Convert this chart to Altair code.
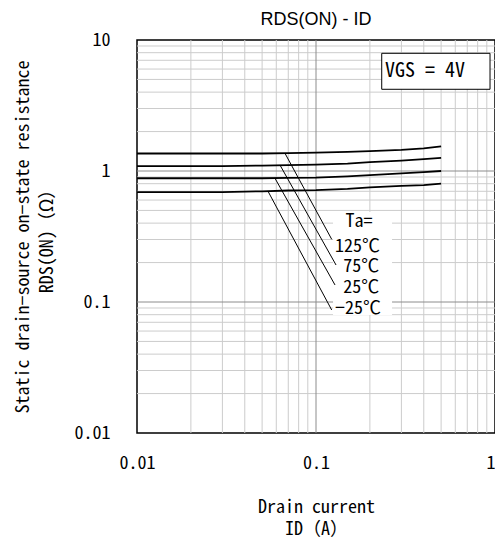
import altair as alt
import pandas as pd

# ---- data ----
current = [0.01, 0.02, 0.03, 0.05, 0.07, 0.1, 0.15, 0.2, 0.3, 0.4, 0.5]
r_125 = [1.36, 1.36, 1.36, 1.36, 1.37, 1.38, 1.40, 1.42, 1.45, 1.49, 1.54]
r_75 = [1.09, 1.09, 1.09, 1.10, 1.11, 1.12, 1.14, 1.17, 1.20, 1.23, 1.26]
r_25 = [0.88, 0.88, 0.88, 0.88, 0.885, 0.89, 0.91, 0.93, 0.96, 0.98, 1.00]
r_m25 = [0.69, 0.69, 0.69, 0.70, 0.71, 0.715, 0.73, 0.75, 0.77, 0.78, 0.80]
series_names = ["125", "75", "25", "-25"]

# leader lines: (x_start, y_start, x_end, y_end)
leader_x1 = [0.0671, 0.0629, 0.0590, 0.0541]
leader_y1 = [1.365, 1.111, 0.880, 0.695]
leader_x2 = [0.1224, 0.1294, 0.1277, 0.1224]
leader_y2 = [0.301, 0.1916, 0.1349, 0.0869]

label_text = ["Ta=", "125℃", "75℃", "25℃", "−25℃"]
label_x = [0.1738, 0.1277, 0.1421, 0.1421, 0.1277]
label_y = [0.4045, 0.2607, 0.1834, 0.1279, 0.0884]
label_align = ["center", "left", "left", "left", "left"]

x_ticks = [0.01, 0.1, 1]
y_ticks = [0.01, 0.1, 1, 10]

W, H = 358, 393
FONT = "'Noto Sans Mono CJK JP', 'Noto Sans CJK JP', sans-serif"

# ---- tables ----
rows = []
for name, vals in zip(series_names, [r_125, r_75, r_25, r_m25]):
    for c, v in zip(current, vals):
        rows.append({"id": c, "r": v, "s": name})
curves = pd.DataFrame(rows)

xminor = pd.DataFrame({"x": [m * d for d in [0.01, 0.1] for m in range(2, 10)]})
yminor = pd.DataFrame({"y": [m * d for d in [0.01, 0.1, 1] for m in range(2, 10)]})
xmajor = pd.DataFrame({"x": [0.1]})
ymajor = pd.DataFrame({"y": [0.1, 1]})

leaders = pd.DataFrame({"x": leader_x1, "y": leader_y1, "x2": leader_x2, "y2": leader_y2})
labels = pd.DataFrame({"t": label_text, "x": label_x, "y": label_y, "a": label_align})

xs = alt.Scale(type="log", domain=[0.01, 1], nice=False)
ys = alt.Scale(type="log", domain=[0.01, 10], nice=False)

x_axis = alt.Axis(values=x_ticks, format="~g", grid=False, ticks=False, domain=False,
                  labelFont=FONT, labelFontSize=18, labelColor="black",
                  labelPadding=21, labelFlush=False,
                  labelAlign={"expr": "datum.value >= 1 ? 'right' : 'center'"},
                  title=["Drain current", "ID（A）"], titleFont=FONT, titleFontSize=18,
                  titleFontWeight="normal", titleColor="black", titleBaseline="top",
                  titleY=65, titleLineHeight=22)
y_axis = alt.Axis(values=y_ticks, format="~g", grid=False, ticks=False, domain=False,
                  labelFont=FONT, labelFontSize=18, labelColor="black",
                  labelPadding=27, labelFlush=False,
                  title=["Static drain−source on−state resistance", "RDS(ON)（Ω）"],
                  titleFont=FONT, titleFontSize=18, titleFontWeight="normal",
                  titleColor="black", titleBaseline="top", titleX=-123,
                  titleLineHeight=24)

base = alt.Chart(curves)

grid_xminor = alt.Chart(xminor).mark_rule(color="#cccccc", strokeWidth=1).encode(
    x=alt.X("x:Q", scale=xs, axis=x_axis))
grid_yminor = alt.Chart(yminor).mark_rule(color="#cccccc", strokeWidth=1).encode(
    y=alt.Y("y:Q", scale=ys, axis=y_axis))
grid_xmajor = alt.Chart(xmajor).mark_rule(color="#8c8c8c", strokeWidth=1).encode(
    x=alt.X("x:Q", scale=xs))
grid_ymajor = alt.Chart(ymajor).mark_rule(color="#8c8c8c", strokeWidth=1).encode(
    y=alt.Y("y:Q", scale=ys))

label_bg = alt.Chart(pd.DataFrame({"x": [0.1245], "x2": [0.266], "y": [0.0796], "y2": [0.486]})).mark_rect(
    fill="white").encode(x=alt.X("x:Q", scale=xs), x2="x2:Q", y=alt.Y("y:Q", scale=ys), y2="y2:Q")

lines = base.mark_line(color="black", strokeWidth=1.8).encode(
    x=alt.X("id:Q", scale=xs),
    y=alt.Y("r:Q", scale=ys),
    detail="s:N",
)

leader = alt.Chart(leaders).mark_rule(color="black", strokeWidth=1).encode(
    x=alt.X("x:Q", scale=xs), y=alt.Y("y:Q", scale=ys), x2="x2:Q", y2="y2:Q")

text_center = alt.Chart(labels[labels.a == "center"]).mark_text(
    font=FONT, fontSize=18, color="black", align="center", baseline="middle").encode(
    x=alt.X("x:Q", scale=xs), y=alt.Y("y:Q", scale=ys), text="t:N")
text_left = alt.Chart(labels[labels.a == "left"]).mark_text(
    font=FONT, fontSize=18, color="black", align="left", baseline="middle").encode(
    x=alt.X("x:Q", scale=xs), y=alt.Y("y:Q", scale=ys), text="t:N")

vgs_box = alt.Chart(pd.DataFrame({"x": [0.2329], "x2": [0.938], "y": [4.205], "y2": [7.915]})).mark_rect(
    fill="white", stroke="black", strokeWidth=1).encode(
    x=alt.X("x:Q", scale=xs), x2="x2:Q", y=alt.Y("y:Q", scale=ys), y2="y2:Q")
vgs_text = alt.Chart(pd.DataFrame({"x": [0.243], "y": [5.75], "t": ["VGS = 4V"]})).mark_text(
    font=FONT, fontSize=20, color="black", align="left", baseline="middle").encode(
    x=alt.X("x:Q", scale=xs), y=alt.Y("y:Q", scale=ys), text="t:N")

title_text = alt.Chart(pd.DataFrame({"t": ["RDS(ON) - ID"]})).mark_text(
    font="Liberation Sans", fontSize=18, color="black", align="center",
    baseline="alphabetic").encode(
    x=alt.value(W / 2), y=alt.value(-15), text="t:N")

chart = alt.layer(
    grid_xminor, grid_yminor, grid_xmajor, grid_ymajor,
    label_bg, lines, leader, text_center, text_left, vgs_box, vgs_text, title_text,
).properties(
    width=W, height=H,
    autosize="none",
    padding={"left": 129, "top": 32, "right": 0, "bottom": 106},
).configure_view(stroke="black", strokeWidth=1.5)

chart.save("out.html", embed_options={"renderer": "svg", "actions": False})
